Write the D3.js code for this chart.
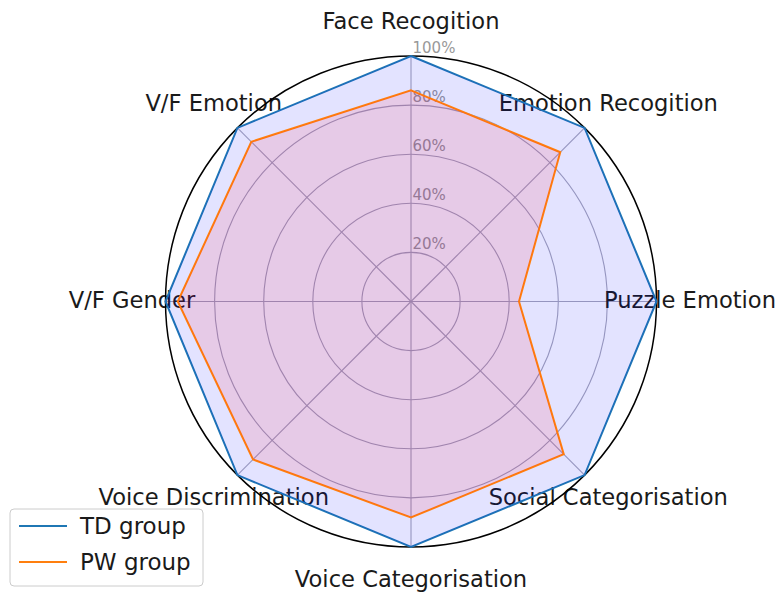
<!DOCTYPE html>
<html>
<head>
<meta charset="utf-8">
<script src="https://cdn.jsdelivr.net/npm/d3@7"></script>
<style>
  html, body { margin: 0; padding: 0; background: #fff; }
  svg { display: block; }
  text { font-family: "DejaVu Sans", sans-serif; }
</style>
</head>
<body>
<svg id="chart" width="776" height="592"></svg>
<script>
// Radar chart: task scores of the two groups
const categories = [
  "Face Recogition", "Emotion Recogition", "Puzzle Emotion", "Social Categorisation",
  "Voice Categorisation", "Voice Discrimination", "V/F Gender", "V/F Emotion"
];
const tdValues = [100, 100, 100, 100, 100, 100, 100, 100];
const pwValues = [86, 86, 44, 88, 88, 91, 95, 92];
const radialTicks = [20, 40, 60, 80, 100];
const radialTickLabels = ["20%", "40%", "60%", "80%", "100%"];
const seriesNames = ["TD group", "PW group"];

const svg = d3.select("#chart");
const cx = 411, cy = 301.5, R = 245.5;
const g = svg.append("g").attr("transform", `translate(${cx},${cy})`);

const r = d3.scaleLinear().domain([0, 100]).range([0, R]);
const angle = d3.scaleLinear().domain([0, categories.length]).range([0, 2 * Math.PI]);
const px = (a, v) => r(v) * Math.sin(a);
const py = (a, v) => -r(v) * Math.cos(a);

// circular grid
g.selectAll(".grid").data(radialTicks.slice(0, -1)).join("circle")
  .attr("r", d => r(d)).attr("fill", "none").attr("stroke", "#a8a8b8").attr("stroke-width", 1.1);

// spokes
g.selectAll(".spoke").data(categories).join("line")
  .attr("x1", 0).attr("y1", 0)
  .attr("x2", (d, i) => px(angle(i), 100)).attr("y2", (d, i) => py(angle(i), 100))
  .attr("stroke", "#a8a8b8").attr("stroke-width", 1.1);

// radial tick labels
g.selectAll(".rlabel").data(radialTicks).join("text")
  .attr("x", 1.5).attr("y", d => -r(d) - 3.5)
  .attr("font-size", 15).attr("fill", "#999")
  .text((d, i) => radialTickLabels[i]);

// category labels
g.selectAll(".clabel").data(categories).join("text")
  .attr("x", (d, i) => px(angle(i), 100) * 279 / R)
  .attr("y", (d, i) => py(angle(i), 100) * 279 / R - 1.5)
  .attr("text-anchor", "middle").attr("dominant-baseline", "central")
  .attr("font-size", 22.6).attr("fill", "#1a1a1a")
  .text(d => d);

// outer frame
g.append("circle").attr("r", r(100)).attr("fill", "none").attr("stroke", "#000").attr("stroke-width", 1.5);

const line = d3.lineRadial().angle((d, i) => angle(i)).radius(d => r(d)).curve(d3.curveLinearClosed);

const series = [
  { name: seriesNames[0], values: tdValues, stroke: "#1f77b4", fill: "rgba(0,0,255,0.11)" },
  { name: seriesNames[1], values: pwValues, stroke: "#ff7f0e", fill: "rgba(255,0,40,0.11)" }
];

series.forEach(s => {
  g.append("path").attr("d", line(s.values)).attr("fill", "none")
    .attr("stroke", s.stroke).attr("stroke-width", 2).attr("stroke-linejoin", "miter");
  g.append("path").attr("d", line(s.values)).attr("fill", s.fill).attr("stroke", "none");
});

// legend
const lg = svg.append("g").attr("transform", "translate(10,509)");
lg.append("rect").attr("width", 193).attr("height", 77).attr("rx", 4)
  .attr("fill", "rgba(255,255,255,0.8)").attr("stroke", "#cccccc");
series.forEach((s, i) => {
  const y = 17 + i * 36;
  lg.append("line").attr("x1", 9).attr("x2", 57).attr("y1", y).attr("y2", y)
    .attr("stroke", s.stroke).attr("stroke-width", 2);
  lg.append("text").attr("x", 70).attr("y", y).attr("dominant-baseline", "central")
    .attr("font-size", 23).attr("fill", "#1a1a1a").text(s.name);
});
</script>
</body>
</html>
